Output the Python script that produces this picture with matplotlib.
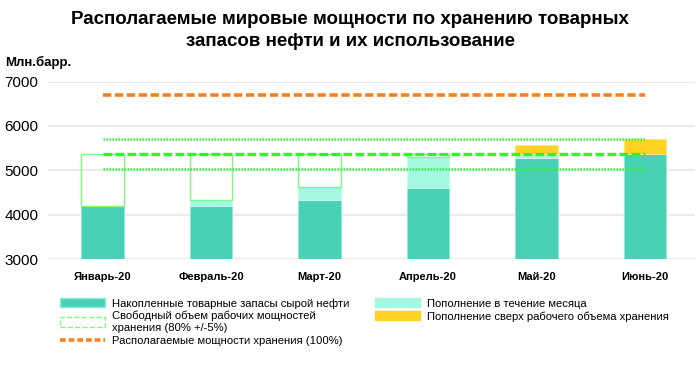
import matplotlib
matplotlib.use("Agg")
import matplotlib.pyplot as plt
from matplotlib.patches import Patch, Rectangle
from matplotlib.lines import Line2D

plt.rcParams['font.family'] = ['Liberation Sans', 'DejaVu Sans']

months = ['Январь-20', 'Февраль-20', 'Март-20', 'Апрель-20', 'Май-20', 'Июнь-20']
stock = [4200, 4200, 4320, 4610, 5275, 5360]      # накопленные запасы
added = [0, 135, 295, 690, 85, 0]                 # пополнение в течение месяца
over = [0, 0, 0, 0, 200, 340]                     # сверх рабочего объема
capacity = 6700                                   # 100%
working = 5360                                    # 80%
band_lo = 5025                                    # 75%
band_hi = 5695                                    # 85%

c_dark = '#48D1B4'
c_light = '#A4F8E2'
c_yellow = '#FFD324'
c_orange = '#F5821F'
c_green = '#2EF52E'
c_box = '#7CFA7C'

fig = plt.figure(figsize=(7, 3.76), dpi=100)
ax = fig.add_axes([0.069, 0.311, 0.924, 0.472])

x = list(range(len(months)))
w = 0.39
ax.bar(x, stock, w, color=c_dark, edgecolor='#8EEBD5', linewidth=0.6, zorder=2)
tops = [s + a for s, a in zip(stock, added)]
ax.bar(x, added, w, bottom=stock, color=c_light, edgecolor='#C4FBEC', linewidth=0.6, zorder=2)
ax.bar(x, over, w, bottom=working, color=c_yellow, edgecolor='#FFE57A', linewidth=0.6, zorder=2)

# свободный объем рабочих мощностей
for xi, t in zip(x, tops):
    if t < working:
        ax.add_patch(Rectangle((xi - w / 2, t), w, working - t, fill=False,
                               edgecolor=c_box, linewidth=1.0, zorder=3))

ax.plot([0, 5], [capacity, capacity], color=c_orange, lw=2.6, dashes=(2.3, 1.0), zorder=4)
ax.plot([0, 5], [working, working], color=c_green, lw=2.4, dashes=(2.6, 1.0), zorder=4)
ax.plot([0, 5], [band_hi, band_hi], color=c_green, lw=1.8, dashes=(0.6, 0.6), zorder=4)
ax.plot([0, 5], [band_lo, band_lo], color=c_green, lw=1.8, dashes=(0.6, 0.6), zorder=4)

ax.set_xlim(-0.5, 5.46)
ax.set_ylim(3000, 7000)
ax.set_yticks([3000, 4000, 5000, 6000, 7000])
ax.set_xticks(x)
ax.set_xticklabels(months, fontsize=8, fontweight='bold')
ax.tick_params(axis='y', labelsize=11, length=0, pad=7)
ax.tick_params(axis='x', length=0, pad=9)
ax.grid(axis='y', color='#EBEBEB', linewidth=1.6, zorder=0)
ax.set_axisbelow(True)
for s in ax.spines.values():
    s.set_visible(False)

fig.text(0.5, 0.97, 'Располагаемые мировые мощности по хранению товарных\nзапасов нефти и их использование',
         ha='center', va='top', fontsize=13.5, fontweight='bold', linespacing=1.4)
fig.text(0.007, 0.835, 'Млн.барр.', fontsize=9.5, fontweight='bold', va='center')

handles = [
    Patch(facecolor=c_dark, edgecolor='#8EEBD5'),
    Patch(facecolor='white', edgecolor=c_box, linestyle='--', linewidth=1.0),
    Line2D([], [], color=c_orange, lw=2.6, dashes=(1.6, 0.8)),
    Patch(facecolor=c_light, edgecolor=c_light),
    Patch(facecolor=c_yellow, edgecolor=c_yellow),
]
labels = [
    'Накопленные товарные запасы сырой нефти',
    'Свободный объем рабочих мощностей\nхранения (80% +/-5%)',
    'Располагаемые мощности хранения (100%)',
    'Пополнение в течение месяца',
    'Пополнение сверх рабочего объема хранения',
]
fig.legend(handles, labels, ncol=2, loc='upper left', bbox_to_anchor=(0.078, 0.222),
           frameon=False, fontsize=8.1, handlelength=4.0, handleheight=0.9,
           columnspacing=2.3, labelspacing=0.2, handletextpad=0.6, borderpad=0)

fig.savefig('out.png', dpi=100)
